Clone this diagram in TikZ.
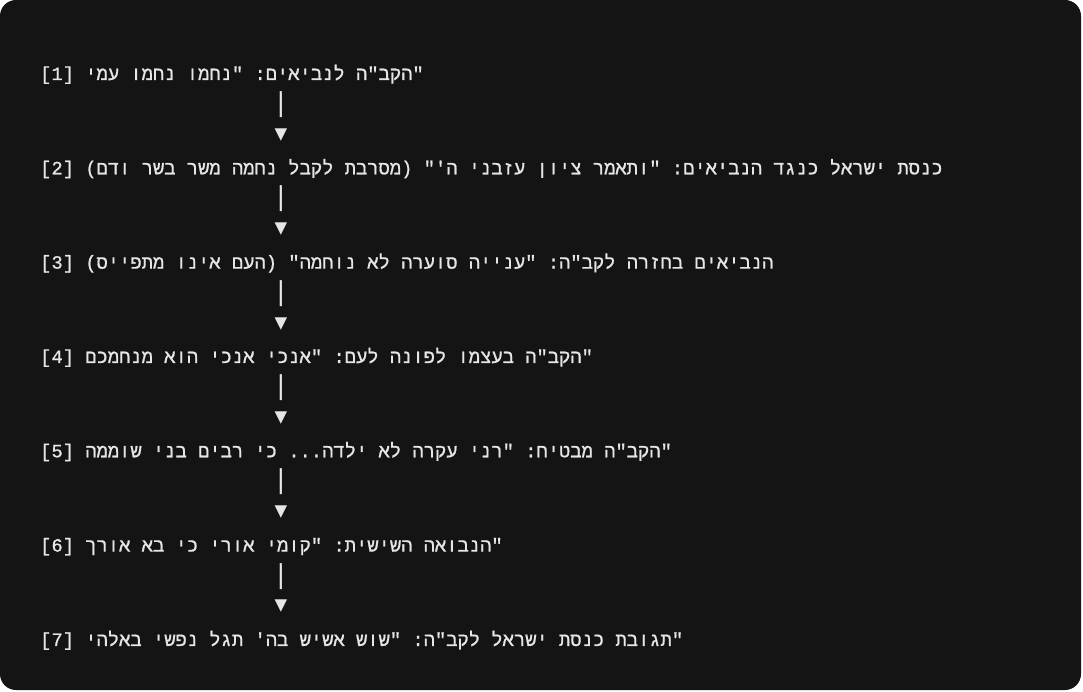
\documentclass[tikz,border=0pt]{standalone}
\usepackage{fontspec}
\setmonofont{Liberation Mono}[Script=Hebrew,FakeBold=0.8]
\newfontfamily\glyphfont{DejaVu Sans Mono}
\usetikzlibrary{positioning}
\TeXXeTstate=1
\definecolor{panel}{HTML}{141414}
\definecolor{ink}{HTML}{E6E6E6}

\begin{document}
\begin{tikzpicture}[x=1pt,y=-1pt,node distance=31.44pt,on grid]
  \useasboundingbox (0,0) rectangle (1083,692);
  \fill[panel,rounded corners=16pt] (0,0) rectangle (1081,690);
  \tikzset{codeline/.style={anchor=base west,inner sep=0pt,text=ink,font=\ttfamily\fontsize{18.8}{22}\selectfont}}
  \tikzset{arrowbar/.style={anchor=base,inner sep=0pt,text=ink,xshift=241pt,font=\glyphfont\fontsize{26}{28}\selectfont}}
  \tikzset{arrowtip/.style={anchor=base,inner sep=0pt,text=ink,yshift=2.5pt,font=\glyphfont\fontsize{21}{22}\selectfont}}
  \node[codeline] (L1) at (40,80) {[1] \beginR הקב"ה לנביאים: "נחמו נחמו עמי\endR"};
  \node (B1) [below=of L1.base west,arrowbar] {|};
  \node (T1) [below=of B1.base,arrowtip] {▼};
  \node (L2) [below=94.32pt of L1.base west,codeline] {[2] \beginR כנסת ישראל כנגד הנביאים: "ותאמר ציון עזבני ה'" (מסרבת לקבל נחמה משר בשר ודם)\endR};
  \node (B2) [below=of L2.base west,arrowbar] {|};
  \node (T2) [below=of B2.base,arrowtip] {▼};
  \node (L3) [below=94.32pt of L2.base west,codeline] {[3] \beginR הנביאים בחזרה לקב"ה: "ענייה סוערה לא נוחמה" (העם אינו מתפייס)\endR};
  \node (B3) [below=of L3.base west,arrowbar] {|};
  \node (T3) [below=of B3.base,arrowtip] {▼};
  \node (L4) [below=94.32pt of L3.base west,codeline] {[4] \beginR הקב"ה בעצמו לפונה לעם: "אנכי אנכי הוא מנחמכם\endR"};
  \node (B4) [below=of L4.base west,arrowbar] {|};
  \node (T4) [below=of B4.base,arrowtip] {▼};
  \node (L5) [below=94.32pt of L4.base west,codeline] {[5] \beginR הקב"ה מבטיח: "רני עקרה לא ילדה... כי רבים בני שוממה\endR"};
  \node (B5) [below=of L5.base west,arrowbar] {|};
  \node (T5) [below=of B5.base,arrowtip] {▼};
  \node (L6) [below=94.32pt of L5.base west,codeline] {[6] \beginR הנבואה השישית: "קומי אורי כי בא אורך\endR"};
  \node (B6) [below=of L6.base west,arrowbar] {|};
  \node (T6) [below=of B6.base,arrowtip] {▼};
  \node (L7) [below=94.32pt of L6.base west,codeline] {[7] \beginR תגובת כנסת ישראל לקב"ה: "שוש אשיש בה' תגל נפשי באלהי\endR"};
\end{tikzpicture}
\end{document}
